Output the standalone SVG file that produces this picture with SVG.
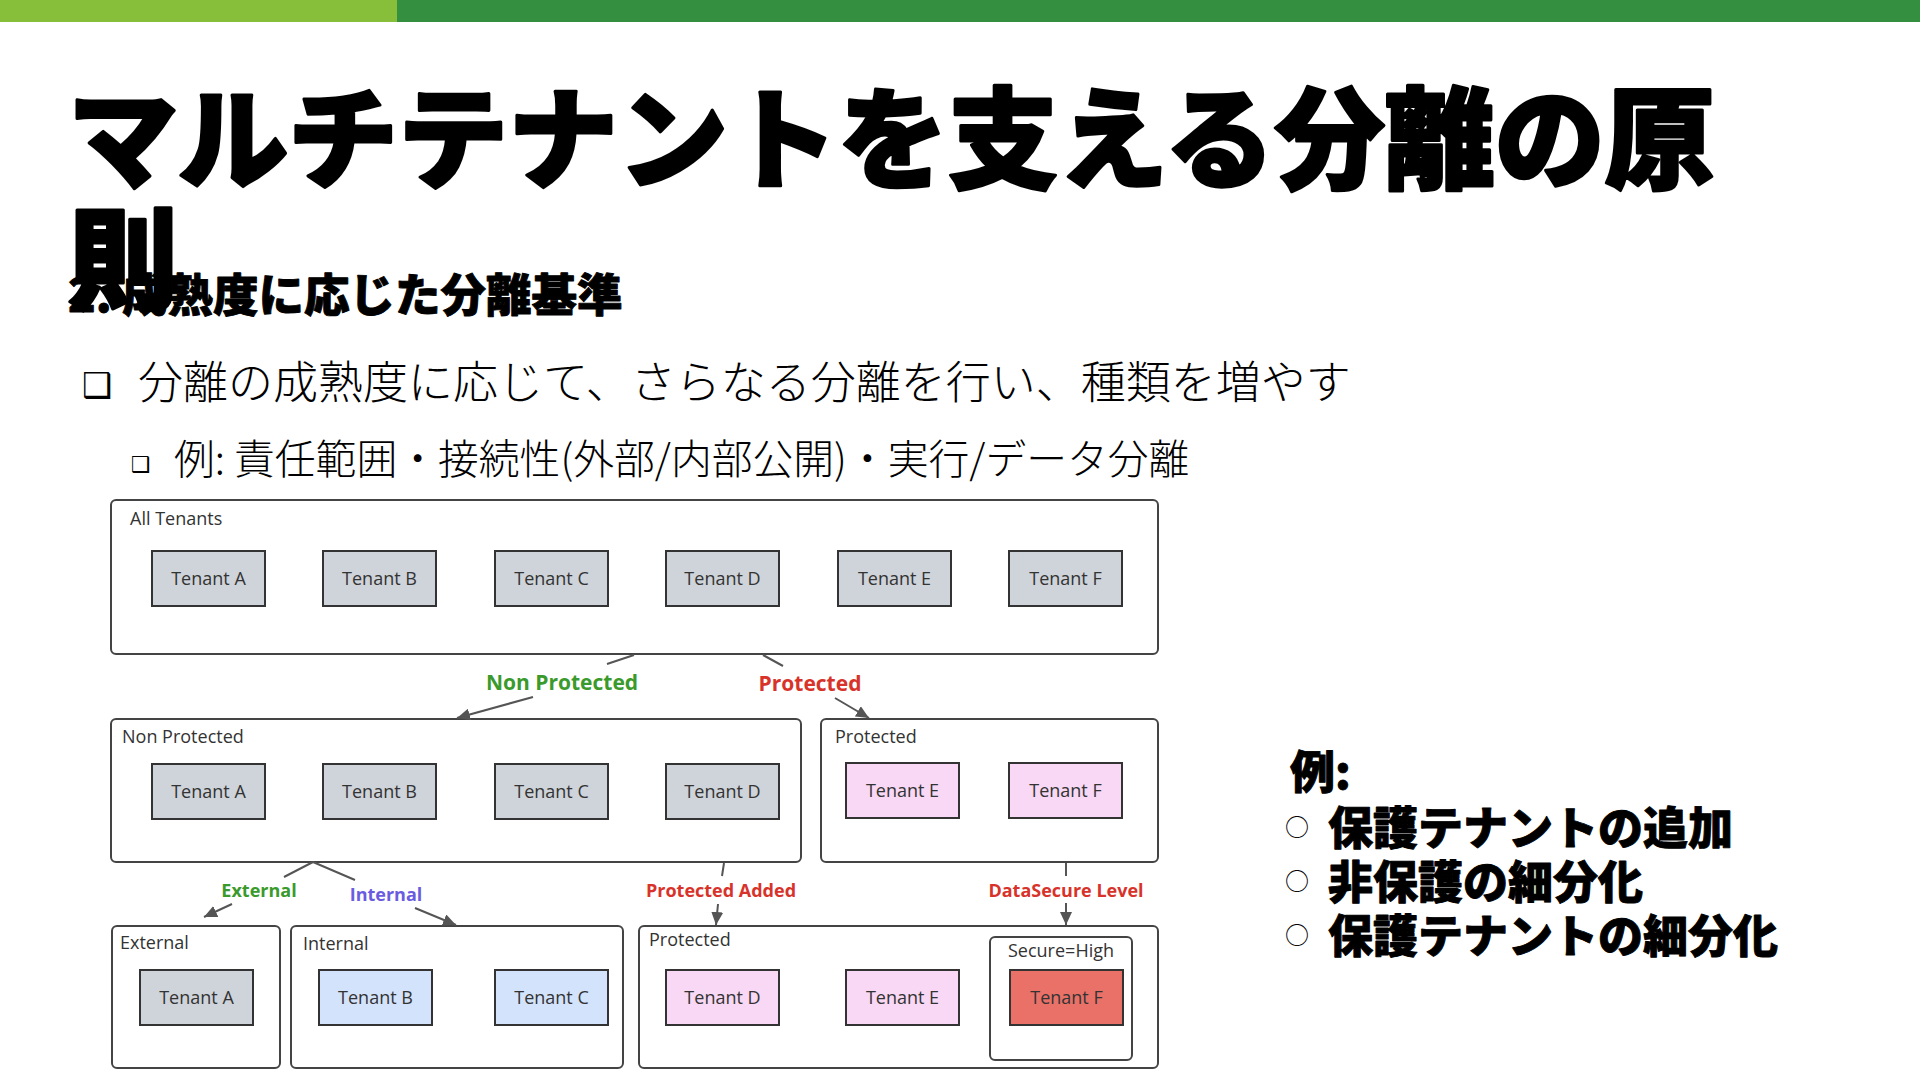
<svg xmlns="http://www.w3.org/2000/svg" width="1920" height="1081" viewBox="0 0 1920 1081">
<style>
.jp{font-family:"Noto Sans CJK JP","Noto Sans CJK SC",sans-serif;fill:#000}
.title{font-size:110px;font-weight:900;stroke:#000;stroke-width:3;stroke-linejoin:round}
.sub{font-size:45.5px;font-weight:900;stroke:#000;stroke-width:0.9;stroke-linejoin:round}
.b1{font-size:45px;font-weight:300}
.b2{font-size:40.8px;font-weight:300}
.rt{font-size:45px;font-weight:900;stroke:#000;stroke-width:0.9;stroke-linejoin:round}
.dot{font-family:"DejaVu Sans",sans-serif;fill:#000}
.grp{fill:#fff;stroke:#444;stroke-width:2}
.t{stroke:#333;stroke-width:2}
.gray{fill:#cfd3da}
.pink{fill:#f8d8f4}
.blue{fill:#d3e3fc}
.red{fill:#ea7168}
.tl{font-family:"Open Sans","Noto Sans",sans-serif;font-size:18px;fill:#333;text-anchor:middle}
.gl{font-family:"Open Sans","Noto Sans",sans-serif;font-size:18px;fill:#333}
.el{font-family:"Open Sans","Noto Sans",sans-serif;font-weight:700;text-anchor:middle}
.conn{fill:none;stroke:#555;stroke-width:2}
</style>
<defs>
<marker id="ah" markerUnits="userSpaceOnUse" markerWidth="14" markerHeight="12" refX="13" refY="6" orient="auto">
<path d="M0,0 L13,6 L0,12 z" fill="#555"/>
</marker>
</defs>
<rect x="0" y="0" width="1920" height="22" fill="#348f41"/>
<rect x="0" y="0" width="397" height="22" fill="#87be3a"/>
<g id="title">
<text class="jp title" x="68" y="180">マルチテナントを支える分離の原</text>
<text class="jp title" x="68" y="300">則</text>
<text class="jp sub" x="68" y="312">2. 成熟度に応じた分離基準</text>
</g>
<g id="bullets">
<text class="dot" x="82" y="397" font-size="34">❑</text>
<text class="jp b1" x="138" y="399">分離の成熟度に応じて、さらなる分離を行い、種類を増やす</text>
<text class="dot" x="131" y="472" font-size="22">❑</text>
<text class="jp b2" x="174" y="474">例: 責任範囲・接続性(外部/内部公開)・実行/データ分離</text>
</g>
<g id="example">
<text class="jp rt" x="1290" y="789">例:</text>
<text class="jp" x="1285" y="836" font-size="24">○</text>
<text class="jp rt" x="1328" y="845">保護テナントの追加</text>
<text class="jp" x="1285" y="890" font-size="24">○</text>
<text class="jp rt" x="1328" y="899">非保護の細分化</text>
<text class="jp" x="1285" y="944" font-size="24">○</text>
<text class="jp rt" x="1328" y="953">保護テナントの細分化</text>
</g>
<g id="all-tenants">
<rect class="grp" x="111" y="500" width="1047" height="154" rx="5"/>
<text class="gl" x="130" y="525">All Tenants</text>
<rect class="t gray" x="152" y="551" width="113" height="55"/><text class="tl" x="208.5" y="585">Tenant A</text>
<rect class="t gray" x="323" y="551" width="113" height="55"/><text class="tl" x="379.5" y="585">Tenant B</text>
<rect class="t gray" x="495" y="551" width="113" height="55"/><text class="tl" x="551.5" y="585">Tenant C</text>
<rect class="t gray" x="666" y="551" width="113" height="55"/><text class="tl" x="722.5" y="585">Tenant D</text>
<rect class="t gray" x="838" y="551" width="113" height="55"/><text class="tl" x="894.5" y="585">Tenant E</text>
<rect class="t gray" x="1009" y="551" width="113" height="55"/><text class="tl" x="1065.5" y="585">Tenant F</text>
</g>
<g id="non-protected">
<rect class="grp" x="111" y="719" width="690" height="143" rx="5"/>
<text class="gl" x="122" y="743">Non Protected</text>
<rect class="t gray" x="152" y="764" width="113" height="55"/><text class="tl" x="208.5" y="798">Tenant A</text>
<rect class="t gray" x="323" y="764" width="113" height="55"/><text class="tl" x="379.5" y="798">Tenant B</text>
<rect class="t gray" x="495" y="764" width="113" height="55"/><text class="tl" x="551.5" y="798">Tenant C</text>
<rect class="t gray" x="666" y="764" width="113" height="55"/><text class="tl" x="722.5" y="798">Tenant D</text>
</g>
<g id="protected">
<rect class="grp" x="821" y="719" width="337" height="143" rx="5"/>
<text class="gl" x="835" y="743">Protected</text>
<rect class="t pink" x="846" y="763" width="113" height="55"/><text class="tl" x="902.5" y="797">Tenant E</text>
<rect class="t pink" x="1009" y="763" width="113" height="55"/><text class="tl" x="1065.5" y="797">Tenant F</text>
</g>
<g id="external">
<rect class="grp" x="112" y="926" width="168" height="142" rx="5"/>
<text class="gl" x="120" y="949">External</text>
<rect class="t gray" x="140" y="970" width="113" height="55"/><text class="tl" x="196.5" y="1004">Tenant A</text>
</g>
<g id="internal">
<rect class="grp" x="291" y="926" width="332" height="142" rx="5"/>
<text class="gl" x="303" y="950">Internal</text>
<rect class="t blue" x="319" y="970" width="113" height="55"/><text class="tl" x="375.5" y="1004">Tenant B</text>
<rect class="t blue" x="495" y="970" width="113" height="55"/><text class="tl" x="551.5" y="1004">Tenant C</text>
</g>
<g id="protected-2">
<rect class="grp" x="639" y="926" width="519" height="142" rx="5"/>
<text class="gl" x="649" y="946">Protected</text>
<rect class="t pink" x="666" y="970" width="113" height="55"/><text class="tl" x="722.5" y="1004">Tenant D</text>
<rect class="t pink" x="846" y="970" width="113" height="55"/><text class="tl" x="902.5" y="1004">Tenant E</text>
</g>
<g id="secure-high">
<rect class="grp" x="990" y="937" width="142" height="123" rx="5"/>
<text class="tl" x="1061" y="957">Secure=High</text>
<rect class="t red" x="1010" y="970" width="113" height="55"/><text class="tl" x="1066.5" y="1004">Tenant F</text>
</g>
<g id="connectors">
<path class="conn" d="M634,655 L607,664 M533,697 L457,718" marker-end="url(#ah)"/>
<path class="conn" d="M763,655 L783,666 M835,698 L869,718" marker-end="url(#ah)"/>
<path class="conn" d="M313,862 L284,877 M232,904 L204,917" marker-end="url(#ah)"/>
<path class="conn" d="M313,862 L355,880 M415,908 L456,925" marker-end="url(#ah)"/>
<path class="conn" d="M724,863 L722,876 M718,904 L716,925" marker-end="url(#ah)"/>
<path class="conn" d="M1066,863 L1066,876 M1066,903 L1066,925" marker-end="url(#ah)"/>
<text class="el" x="562" y="690" font-size="21" fill="#3a9a2c">Non Protected</text>
<text class="el" x="810" y="691" font-size="21" fill="#d8332a">Protected</text>
<text class="el" x="259" y="897" font-size="18" fill="#3a9a2c">External</text>
<text class="el" x="386" y="901" font-size="18" fill="#6a5ce0">Internal</text>
<text class="el" x="721" y="897" font-size="18" fill="#d8332a">Protected Added</text>
<text class="el" x="1066" y="897" font-size="18" fill="#d8332a">DataSecure Level</text>
</g>
</svg>
